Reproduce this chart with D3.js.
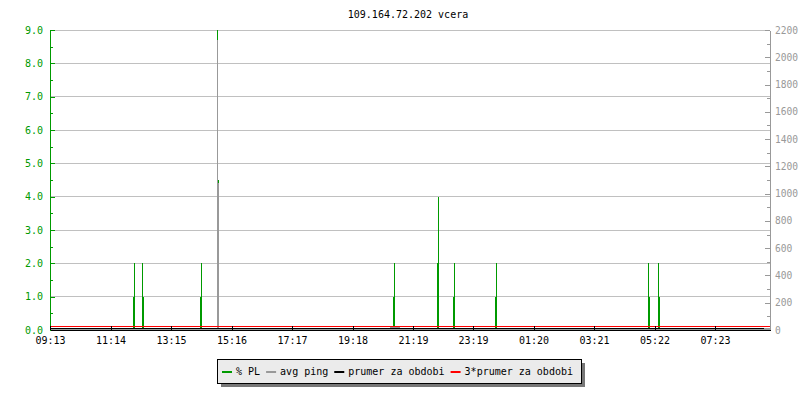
<!DOCTYPE html>
<html>
<head>
<meta charset="utf-8">
<script src="https://cdn.jsdelivr.net/npm/d3@7"></script>
<style>
  html, body { margin: 0; padding: 0; background: #fff; }
  svg { display: block; font-family: "DejaVu Sans Mono", monospace; }
</style>
</head>
<body>
<svg id="chart" width="800" height="400"></svg>
<script>
// ── Data ──────────────────────────────────────────────────
const TITLE = '109.164.72.202 vcera';
const START = '09:13';
const xTickLabels = ['09:13', '11:14', '13:15', '15:16', '17:17', '19:18',
                     '21:19', '23:19', '01:20', '03:21', '05:22', '07:23'];
const plTicks   = [0, 1, 2, 3, 4, 5, 6, 7, 8, 9];
const pingTicks = [0, 200, 400, 600, 800, 1000, 1200, 1400, 1600, 1800, 2000, 2200];

// % PL samples (2 min each), everything else is 0
const plSamples = [
    ['11:59', 1], ['12:01', 2], ['12:17', 2], ['12:19', 1],
    ['14:13', 1], ['14:15', 2], ['14:47', 9], ['14:49', 4.5],
    ['20:39', 1], ['20:41', 2], ['22:07', 2], ['22:09', 4],
    ['22:39', 1], ['22:41', 2], ['00:03', 1], ['00:05', 2],
    ['05:09', 2], ['05:11', 1], ['05:29', 2], ['05:31', 1]
];

// avg ping [ms], one value per 20 min from 09:13
const pingValues = [
     6, 18, 15, 15, 15, 15, 15, 15,  8, 15, 15, 15, 15, 15, 15, 15,
    15, 15,  8, 15, 15, 15, 15, 18, 15, 18,  8, 10,  8,  8,  8, 15,
    15, 15, 22,  8,  8, 15, 15, 15, 15, 15,  8, 15, 15, 15, 10, 10,
    15,  8,  7,  7,  7, 10, 10, 10, 10, 10, 10,  8,  8, 15, 15, 15,
    15, 15, 15, 15,  8, 15, 15, 18
];
const pingSpike = [['14:47', 2130], ['14:49', 1075], ['14:51', 15]];

const avgPing    = 8.6;
const avgPing3x  = 25.8;

const legendLabels = ['% PL', 'avg ping', 'prumer za obdobi', '3*prumer za obdobi'];
const legendColors = ['#009a00', '#999999', '#000000', '#ff0000'];

// ── Helpers ───────────────────────────────────────────────
const toMin = s => { const [h, m] = s.split(':').map(Number); return h * 60 + m; };
const startMin = toMin(START);
const offset = s => (toMin(s) - startMin + 1440) % 1440;

// ── Layout ────────────────────────────────────────────────
const L = 50, R = 770, T = 30, B = 330;
const GREEN = '#009a00', GRID = '#c0c0c0', RGRAY = '#999999';

const svg = d3.select('#chart');
const x  = d3.scaleLinear().domain([0, 1440]).range([L, R]);
const yL = d3.scaleLinear().domain([0, 9]).range([B, T]);
const yR = d3.scaleLinear().domain([0, 2200]).range([B, T]);

svg.append('text')
    .attr('x', 408).attr('y', 18)
    .attr('text-anchor', 'middle')
    .attr('font-size', 10)
    .text(TITLE);

// grid
svg.append('g')
    .selectAll('line')
    .data(plTicks.slice(1))
    .join('line')
    .attr('x1', L).attr('x2', R)
    .attr('y1', d => yL(d)).attr('y2', d => yL(d))
    .attr('stroke', GRID)
    .attr('shape-rendering', 'crispEdges');

// % PL columns
svg.append('g')
    .selectAll('rect')
    .data(plSamples)
    .join('rect')
    .attr('x', d => x(offset(d[0])))
    .attr('width', d => x(offset(d[0]) + 2) - x(offset(d[0])))
    .attr('y', d => yL(d[1]))
    .attr('height', d => B - yL(d[1]))
    .attr('fill', GREEN)
    .attr('shape-rendering', 'crispEdges');

// avg ping area
const pingData = pingValues.map((v, i) => ({ m: i * 20, v }))
    .filter(d => d.m < offset(pingSpike[0][0]) - 14 || d.m > offset(pingSpike[2][0]))
    .concat(pingSpike.map(d => ({ m: offset(d[0]), v: d[1] })))
    .concat([{ m: offset(pingSpike[0][0]) - 14, v: pingValues[16] }]);
pingData.sort((a, b) => a.m - b.m);
pingData.push({ m: 1440, v: pingValues[pingValues.length - 1] });

svg.append('path')
    .datum(pingData)
    .attr('fill', '#999999')
    .attr('shape-rendering', 'crispEdges')
    .attr('d', d3.area()
        .x(d => x(d.m))
        .y0(B)
        .y1(d => yR(d.v))
        .curve(d3.curveStepAfter));

// averages
svg.append('line')
    .attr('x1', L).attr('x2', R - 6)
    .attr('y1', yR(avgPing)).attr('y2', yR(avgPing))
    .attr('stroke', '#000').attr('shape-rendering', 'crispEdges');
svg.append('line')
    .attr('x1', L).attr('x2', R)
    .attr('y1', yR(avgPing3x)).attr('y2', yR(avgPing3x))
    .attr('stroke', '#ff0000').attr('shape-rendering', 'crispEdges');

// ── Axes ──────────────────────────────────────────────────
const axL = svg.append('g')
    .attr('class', 'ax-left')
    .attr('transform', `translate(${L},0)`)
    .call(d3.axisLeft(yL).tickValues(plTicks).tickFormat(d3.format('.1f'))
        .tickSizeInner(-5).tickSizeOuter(0).tickPadding(7));
const axLm = svg.append('g')
    .attr('transform', `translate(${L},0)`)
    .call(d3.axisLeft(yL).tickValues(plTicks.slice(0, -1).map(d => d + 0.5))
        .tickFormat('').tickSizeInner(-3).tickSizeOuter(0));
axLm.select('.domain').remove();

const axR = svg.append('g')
    .attr('transform', `translate(${R},0)`)
    .call(d3.axisRight(yR).tickValues(pingTicks).tickFormat(d3.format('d'))
        .tickSizeInner(-5).tickSizeOuter(0).tickPadding(5));
const axRm = svg.append('g')
    .attr('transform', `translate(${R},0)`)
    .call(d3.axisRight(yR).tickValues(pingTicks.slice(0, -1).map(d => d + 100))
        .tickFormat('').tickSizeInner(-3).tickSizeOuter(0));
axRm.select('.domain').remove();

const axB = svg.append('g')
    .attr('transform', `translate(0,${B})`)
    .call(d3.axisBottom(x).tickValues(xTickLabels.map(offset))
        .tickFormat((d, i) => xTickLabels[i])
        .tickSizeInner(-4).tickSizeOuter(0).tickPadding(7));

svg.selectAll('.tick text').attr('font-size', 10).attr('font-family', '"DejaVu Sans Mono", monospace');
svg.selectAll('path.domain, .tick line').attr('shape-rendering', 'crispEdges');

[axL, axLm].forEach(a => a.selectAll('path, line').attr('stroke', GREEN));
axL.selectAll('text').attr('fill', GREEN);
[axR, axRm].forEach(a => a.selectAll('path, line').attr('stroke', RGRAY));
axR.selectAll('text').attr('fill', RGRAY).attr('font-size', 9.6);
axB.select('.domain').attr('stroke', '#000');
axB.selectAll('.tick line').attr('stroke', '#000');
axB.selectAll('text').attr('fill', '#000');

// ── Legend ────────────────────────────────────────────────
const lx = 217, ly = 359, lw = 364, lh = 24;
svg.append('rect')
    .attr('x', lx + 4).attr('y', ly + 4).attr('width', lw).attr('height', lh)
    .attr('fill', '#777').attr('shape-rendering', 'crispEdges');
svg.append('rect')
    .attr('x', lx + 0.5).attr('y', ly + 0.5).attr('width', lw).attr('height', lh)
    .attr('fill', '#ebebeb').attr('stroke', '#000').attr('shape-rendering', 'crispEdges');

let cx = lx + 5;
legendLabels.forEach((label, i) => {
    svg.append('line')
        .attr('x1', cx).attr('x2', cx + 10)
        .attr('y1', ly + 13).attr('y2', ly + 13)
        .attr('stroke', legendColors[i]).attr('stroke-width', 2);
    const t = svg.append('text')
        .attr('x', cx + 14).attr('y', ly + 16)
        .attr('font-size', 10)
        .text(label);
    cx += 14 + t.node().getComputedTextLength() + 6;
});
</script>
</body>
</html>
